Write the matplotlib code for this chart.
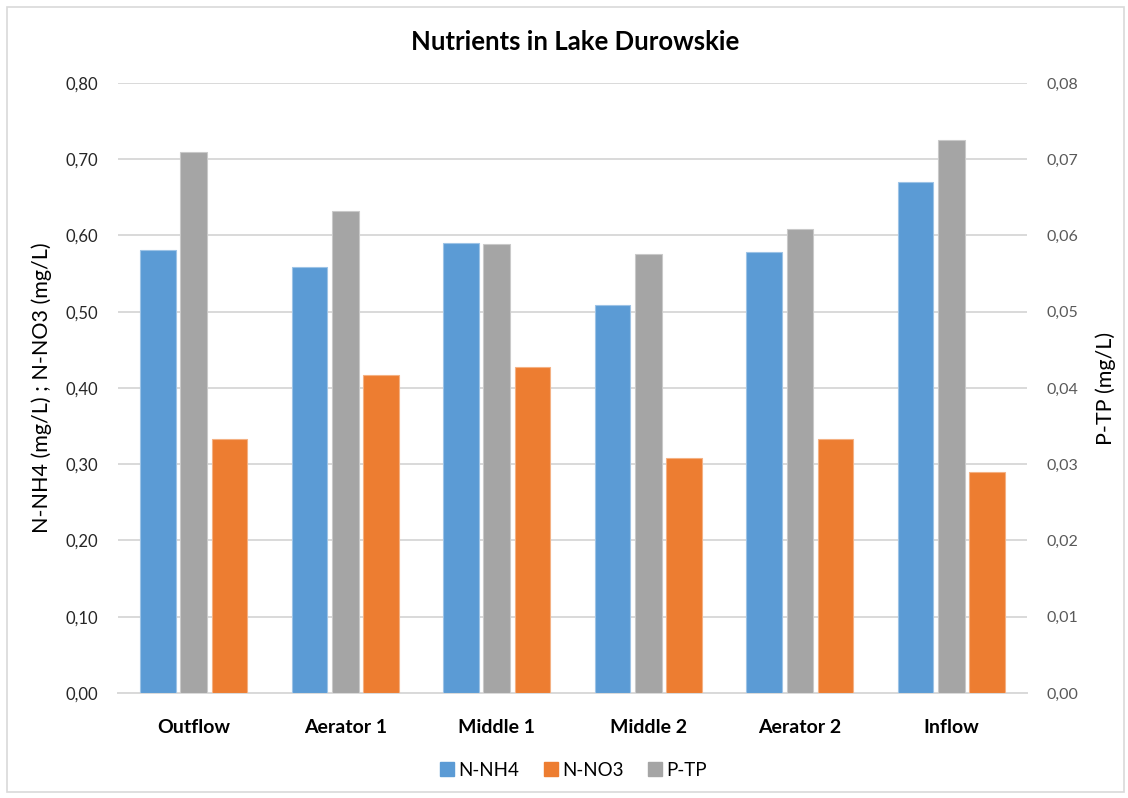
import numpy as np
import matplotlib.pyplot as plt
from matplotlib.ticker import FuncFormatter, MultipleLocator
from matplotlib.patches import Rectangle
from matplotlib.lines import Line2D

# Sampling sites and measured concentrations
sites = ["Outflow", "Aerator 1", "Middle 1", "Middle 2", "Aerator 2", "Inflow"]
n_nh4 = [0.581, 0.559, 0.590, 0.509, 0.579, 0.670]
n_no3 = [0.333, 0.417, 0.428, 0.308, 0.333, 0.290]
p_tp = [0.0710, 0.0632, 0.0589, 0.0576, 0.0608, 0.0725]

c_nh4 = "#5B9BD5"
c_no3 = "#ED7D31"
c_tp = "#A5A5A5"

plt.rcParams['font.family'] = ['Lato', 'DejaVu Sans']

fig = plt.figure(figsize=(11.28, 7.98), dpi=100)
ax = fig.add_axes([0.1046, 0.1316, 0.806, 0.7644])
ax2 = ax.twinx()

x = np.arange(len(sites))
ax.bar(x - 0.236, n_nh4, width=0.234, color=c_nh4, edgecolor="#9DC3E6", linewidth=0.8, zorder=3)
ax.bar(x + 0.236, n_no3, width=0.234, color=c_no3, edgecolor="#F4B183", linewidth=0.8, zorder=3)
ax2.bar(x, p_tp, width=0.176, color=c_tp, edgecolor="#C9C9C9", linewidth=0.8, zorder=3)

ax.set_xlim(-0.5, len(sites) - 0.5)
ax.set_ylim(0, 0.8)
ax2.set_ylim(0, 0.08)
ax.yaxis.set_major_locator(MultipleLocator(0.1))
ax2.yaxis.set_major_locator(MultipleLocator(0.01))

comma = lambda fmt: FuncFormatter(lambda v, p: format(v, fmt).replace(".", ","))
ax.yaxis.set_major_formatter(comma(".2f"))
ax2.yaxis.set_major_formatter(comma(".2f"))

ax.grid(axis="y", color="#D9D9D9", linewidth=1.4, zorder=0)
ax.set_axisbelow(True)
for a in (ax, ax2):
    for s in a.spines.values():
        s.set_visible(False)
ax.spines["bottom"].set_visible(True)
ax.spines["bottom"].set_color("#D9D9D9")
ax.spines["bottom"].set_linewidth(1.4)

ax.set_xticks(x)
ax.set_xticklabels(sites, fontsize=14, fontweight="bold", color="#000000")
ax.tick_params(axis="x", length=0, pad=19)
ax.tick_params(axis="y", length=0, pad=14, labelsize=12, labelcolor="#262626")
ax2.tick_params(axis="y", length=0, pad=14, labelsize=11.5, labelcolor="#595959")

ax.set_ylabel("N-NH4 (mg/L) ; N-NO3 (mg/L)", fontsize=15.5, color="#000000", labelpad=10)
ax2.set_ylabel("P-TP (mg/L)", fontsize=15.5, color="#000000", labelpad=12)

fig.text(0.51, 0.962, "Nutrients in Lake Durowskie", fontsize=18.5, fontweight="bold",
         ha="center", va="top")

handles = [Line2D([], [], marker="s", linestyle="", markersize=9.5, color=c) for c in (c_nh4, c_no3, c_tp)]
fig.legend(handles, ["N-NH4", "N-NO3", "P-TP"], loc="center", bbox_to_anchor=(0.509, 0.035),
           ncol=3, frameon=False, fontsize=13.5, handlelength=0.6, handletextpad=0.3,
           columnspacing=1.4)

# thin frame around the whole chart
fig.patches.append(Rectangle((7 / 1128, 6 / 798), 1117 / 1128, 785 / 798, transform=fig.transFigure,
                             fill=False, edgecolor="#D9D9D9", linewidth=1.2))

fig.savefig("out.png", dpi=100)
